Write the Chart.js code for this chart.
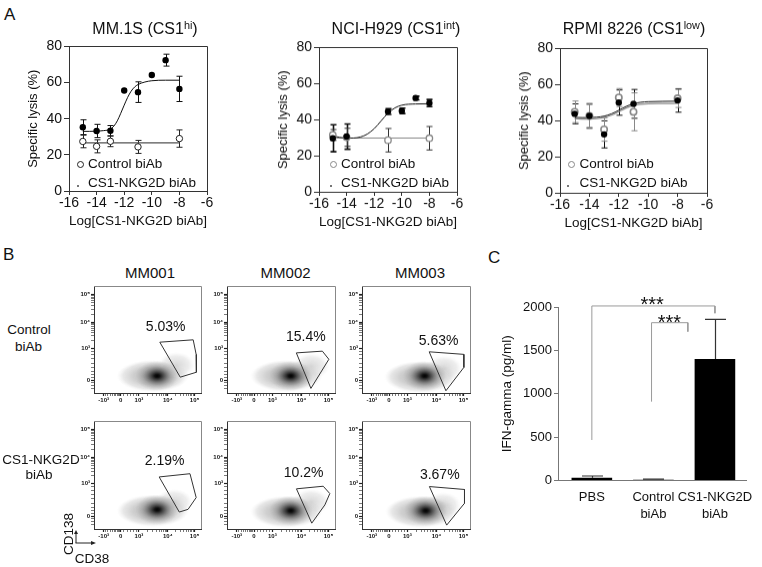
<!DOCTYPE html>
<html>
<head>
<meta charset="utf-8">
<title>CS1-NKG2D biAb</title>
<script src="https://cdn.jsdelivr.net/npm/chart.js@4.4.1/dist/chart.umd.min.js"></script>
<style>
  html, body { margin: 0; padding: 0; background: #fff; }
  #fig { position: relative; width: 762px; height: 567px; overflow: hidden; font-family: "Liberation Sans", Arial, sans-serif; color: #111; }
  #fig canvas { position: absolute; }
  .t { position: absolute; white-space: nowrap; line-height: 1; }
  .t sup { font-size: 68%; line-height: 0; vertical-align: 0.5em; }
  .ring { position: absolute; border-radius: 50%; box-sizing: border-box; }
</style>
</head>
<body>
<div id="fig">
  <svg style="position:absolute;left:60px;top:515px" width="60" height="52">
    <line x1="16" y1="28" x2="16" y2="18" stroke="#222" stroke-width="1"/>
    <polygon points="16,15 14,19 18,19" fill="#222"/>
    <line x1="15.5" y1="28" x2="32" y2="28" stroke="#222" stroke-width="1"/>
    <polygon points="36,28 31,26 31,30" fill="#222"/>
  </svg>
</div>
<script>
// ---------- panel A : specific lysis, x = log10 of biAb concentration ----------
const doseTicks = [-16, -14, -12, -10, -8, -6];
const lysisTicks = [0, 20, 40, 60, 80];

// MM.1S
const mm1sDose = [-15, -14, -13, -12, -11, -10, -9, -8];
const mm1sCs1 = [35.3, 33.2, 33.3, 55.6, 54.7, 64.2, 72.4, 56.5];
const mm1sCs1Err = [4.1, 3.7, 2.9, 0, 5.7, 0, 3.3, 7.0];
const mm1sCtrlDose = [-15, -14, -13, -11, -8];
const mm1sCtrl = [27.4, 24.7, 27.5, 24.4, 29.0];
const mm1sCtrlErr = [3.5, 3.6, 3.0, 3.6, 4.8];
const mm1sFitDose = [-15, -14.5, -14, -13.5, -13, -12.75, -12.5, -12.25, -12, -11.75, -11.5, -11.25, -11, -10.5, -10, -9, -8];
const mm1sCs1Fit = [33.0, 33.0, 33.1, 33.4, 34.2, 35.9, 38.8, 43.0, 47.5, 51.8, 55.2, 57.5, 58.9, 60.3, 61.0, 61.3, 61.3];
const mm1sCtrlFitDose = [-15, -8];
const mm1sCtrlFit = [26.6, 26.6];

// NCI-H929
const nciDose = [-15, -14, -11, -10, -9, -8];
const nciCs1 = [29.7, 30.6, 44.5, 44.9, 52.0, 49.2];
const nciCs1Err = [7.5, 7.0, 1.6, 1.5, 1.0, 2.0];
const nciCtrlDose = [-15, -14, -11, -8];
const nciCtrl = [31.5, 30.2, 28.6, 29.7];
const nciCtrlErr = [3.0, 5.0, 6.5, 6.5];
const nciFitDose = [-15, -14.5, -14, -13.5, -13, -12.5, -12, -11.5, -11, -10.5, -10, -9, -8];
const nciCs1Fit = [31.0, 30.2, 29.8, 29.8, 30.4, 32.0, 35.0, 39.3, 43.6, 46.5, 48.0, 48.7, 48.8];
const nciCtrlFitDose = [-15, -8];
const nciCtrlFit = [29.8, 29.8];

// RPMI 8226
const rpmiDose = [-15, -14, -13, -12, -11, -8];
const rpmiCs1 = [43.8, 42.6, 32.4, 50.0, 49.3, 51.2];
const rpmiCs1Err = [5.5, 6.5, 7.5, 7.0, 8.0, 6.5];
const rpmiCtrl = [44.9, 42.6, 35.1, 52.8, 44.9, 52.3];
const rpmiCtrlErr = [6.0, 7.0, 6.5, 5.0, 10.5, 5.0];
const rpmiFitDose = [-15, -14.5, -14, -13.5, -13, -12.5, -12, -11.5, -11, -10.5, -10, -9, -8];
const rpmiCs1Fit = [41.8, 41.7, 41.7, 41.9, 42.5, 43.8, 45.8, 47.9, 49.4, 50.2, 50.5, 50.7, 50.8];
const rpmiCtrlFit = [41.0, 40.9, 40.9, 41.1, 41.7, 43.0, 45.0, 47.0, 48.4, 49.1, 49.4, 49.5, 49.6];

// ---------- panel B : CD38 x CD138 flow plots (0-100 display units) ----------
const flowSamples = ['MM001', 'MM002', 'MM003'];
const cd38Pos = [9, 25, 42, 69, 94];
const cd38Labels = ['-10³', '0', '10³', '10⁴', '10⁵'];
const cd138Pos = [12, 42, 66, 92];
const cd138Labels = ['0', '10³', '10⁴', '10⁵'];
// order: control MM001..MM003, then CS1-NKG2D MM001..MM003
const gatePct = ['5.03%', '15.4%', '5.63%', '2.19%', '10.2%', '3.67%'];
const pctX = [67, 73, 71, 66, 71, 72];
const pctY = [62, 52, 48, 63, 52, 50];
const gateX = [
  [61.5, 92.7, 95.5, 95.7, 80.6],
  [64.2, 88.3, 94.3, 77.7],
  [62.2, 94.3, 94.3, 77.7],
  [60.9, 89.7, 95.5, 87.9, 79.7],
  [64.3, 89.1, 95.2, 90.6, 78.5],
  [62.4, 94.9, 94.9, 78.4]
];
const gateY = [
  [47.5, 49.7, 36.0, 19.4, 14.8],
  [37.5, 39.1, 31.5, 4.3],
  [38.5, 36.1, 23.9, 2.1],
  [48.2, 51.2, 29.1, 18.2, 15.7],
  [37.2, 39.6, 32.8, 22.3, 5.4],
  [39.3, 36.6, 23.8, 3.6]
];
const coreX = [59, 59, 58, 59, 59, 59];
const coreY = [16, 16, 16, 18, 17, 17];
const lobeX = [77, 78, 76, 75, 78, 75];
const lobeY = [26, 25, 23, 25, 25, 22];
const haloX = [55, 55, 54, 55, 55, 55];
const haloY = [16, 16, 15, 17, 16, 16];

// ---------- panel C : IFN-gamma ----------
const ifnGroups = [['PBS'], ['Control', 'biAb'], ['CS1-NKG2D', 'biAb']];
const ifnMean = [32, 10, 1400];
const ifnErr = [20, 7, 458];
const ifnTicks = [0, 500, 1000, 1500, 2000];
const bracketOuterX = [0, 0, 2, 2];
const bracketOuterY = [467, 2012, 2012, 1928];
const bracketInnerX = [0.97, 0.97, 1.56, 1.56];
const bracketInnerY = [909, 1819, 1819, 1716];
const starX = [0.98, 1.26];
const starY = [2081, 1877];

Chart.defaults.font.family = '"Liberation Sans", Arial, sans-serif';
Chart.defaults.color = '#111';

const fig = document.getElementById('fig');
const xy = (xs, ys) => xs.map((x, i) => ({ x: x, y: ys[i] }));

// error bars (no native support in chart.js)
const errorBars = {
  id: 'errorBars',
  beforeDatasetsDraw(chart) {
    const ctx = chart.ctx;
    const ys = chart.scales.y;
    chart.data.datasets.forEach((ds, i) => {
      if (!ds.errors) return;
      const meta = chart.getDatasetMeta(i);
      ctx.save();
      ctx.strokeStyle = ds.errorColor || '#111';
      ctx.lineWidth = ds.errorWidth || 1;
      meta.data.forEach((pt, j) => {
        const e = ds.errors[j];
        if (!e) return;
        const v = ds.data[j].y;
        const x = Math.round(pt.x) + 0.5;
        const top = ys.getPixelForValue(v + e);
        const bot = ys.getPixelForValue(ds.errorUp ? v : v - e);
        const w = ds.capWidth || 3;
        ctx.beginPath();
        ctx.moveTo(x, top); ctx.lineTo(x, bot);
        ctx.moveTo(x - w, top); ctx.lineTo(x + w, top);
        if (!ds.errorUp) { ctx.moveTo(x - w, bot); ctx.lineTo(x + w, bot); }
        ctx.stroke();
      });
      ctx.restore();
    });
  }
};

// text placed at data coordinates (gate %, significance stars)
const textMarks = {
  id: 'textMarks',
  afterDatasetsDraw(chart, args, opts) {
    if (!opts.items) return;
    const ctx = chart.ctx;
    ctx.save();
    ctx.fillStyle = opts.color || '#111';
    ctx.font = opts.font;
    ctx.textAlign = 'center';
    ctx.textBaseline = opts.baseline || 'middle';
    opts.items.forEach(it => {
      ctx.fillText(it.text, chart.scales.x.getPixelForValue(it.x), chart.scales.y.getPixelForValue(it.y) + (opts.dy || 0));
    });
    ctx.restore();
  }
};

// top and right edges of the plot box
const frame = {
  id: 'frame',
  afterDraw(chart, args, opts) {
    if (!opts.color) return;
    const a = chart.chartArea, ctx = chart.ctx;
    ctx.save();
    ctx.strokeStyle = opts.color;
    ctx.lineWidth = 1;
    ctx.beginPath();
    ctx.moveTo(Math.round(a.left), Math.round(a.top) + 0.5);
    ctx.lineTo(Math.round(a.right) + 0.5, Math.round(a.top) + 0.5);
    ctx.lineTo(Math.round(a.right) + 0.5, Math.round(a.bottom));
    ctx.stroke();
    ctx.restore();
  }
};

Chart.register(errorBars, textMarks, frame);

function addCanvas(l, t, w, h) {
  const c = document.createElement('canvas');
  c.width = w; c.height = h;
  c.style.left = l + 'px'; c.style.top = t + 'px';
  c.style.width = w + 'px'; c.style.height = h + 'px';
  fig.appendChild(c);
  return c;
}

function text(html, x, y, size, align, extra) {
  const d = document.createElement('div');
  d.className = 't';
  d.innerHTML = html;
  d.style.fontSize = size + 'px';
  d.style.left = x + 'px';
  d.style.top = y + 'px';
  d.style.transform = align === 'left' ? 'translate(0,-50%)' : 'translate(-50%,-50%)';
  if (extra) Object.assign(d.style, extra);
  fig.appendChild(d);
}

function ring(cx, cy, r, color, width) {
  const d = document.createElement('div');
  d.className = 'ring';
  d.style.left = (cx - r) + 'px'; d.style.top = (cy - r) + 'px';
  d.style.width = 2 * r + 'px'; d.style.height = 2 * r + 'px';
  d.style.border = width + 'px solid ' + color;
  fig.appendChild(d);
}

const baseOpts = {
  responsive: false,
  animation: false,
  devicePixelRatio: 1,
  events: []
};

function lysisChart(plot, s) {
  const l = plot[0], t = plot[1], r = plot[2], b = plot[3];
  const cv = addCanvas(l - 45, t - 4, r - l + 59, b - t + 42);
  new Chart(cv, {
    type: 'scatter',
    data: {
      datasets: [
        { data: xy(s.cs1Dose, s.cs1), errors: s.cs1Err, errorColor: '#111', errorWidth: s.cs1ErrWidth, capWidth: 3,
          pointRadius: 3.2, pointBackgroundColor: '#000', pointBorderColor: '#000', pointBorderWidth: 0 },
        { data: xy(s.ctrlDose, s.ctrl), errors: s.ctrlErr, errorColor: s.ctrlErrColor, errorWidth: 1, capWidth: 3,
          pointRadius: 3.2, pointBackgroundColor: '#fff', pointBorderColor: s.ctrlColor, pointBorderWidth: s.ctrlBorder },
        { data: xy(s.fitDose, s.cs1Fit), showLine: true, borderColor: '#111', borderWidth: 1, pointRadius: 0,
          cubicInterpolationMode: 'monotone' },
        { data: xy(s.ctrlFitDose, s.ctrlFit), showLine: true, borderColor: s.ctrlLine, borderWidth: 1.2, pointRadius: 0,
          cubicInterpolationMode: 'monotone' }
      ]
    },
    options: Object.assign({}, baseOpts, {
      layout: { padding: { left: 2, top: 4, right: 14, bottom: 0 } },
      scales: {
        x: {
          type: 'linear', min: -16, max: -6,
          afterBuildTicks: sc => { sc.ticks = doseTicks.map(v => ({ value: v })); },
          ticks: { callback: v => String(v), font: { size: 14 }, color: '#111', padding: 0, autoSkip: false, maxRotation: 0 },
          grid: { display: true, drawOnChartArea: false, tickLength: 4, color: '#333' },
          border: { color: '#333', width: 1 },
          title: { display: true, text: 'Log[CS1-NKG2D biAb]', font: { size: 13.5 }, color: '#111', padding: 0 },
          afterFit: sc => { sc.height = 38; }
        },
        y: {
          type: 'linear', min: 0, max: 80,
          afterBuildTicks: sc => { sc.ticks = lysisTicks.map(v => ({ value: v })); },
          ticks: { callback: v => String(v), font: { size: 14 }, color: '#111', padding: 2 },
          grid: { display: true, drawOnChartArea: false, tickLength: 5, color: '#333' },
          border: { color: '#333', width: 1 },
          title: { display: true, text: 'Specific lysis (%)', font: { size: 13 }, color: '#111', padding: 0 },
          afterFit: sc => { sc.width = 43; }
        }
      },
      plugins: { legend: { display: false }, tooltip: { enabled: false }, frame: { color: '#333' } }
    })
  });
}

lysisChart([69, 40, 207, 191], {
  cs1Dose: mm1sDose, cs1: mm1sCs1, cs1Err: mm1sCs1Err, cs1ErrWidth: 1,
  ctrlDose: mm1sCtrlDose, ctrl: mm1sCtrl, ctrlErr: mm1sCtrlErr, ctrlErrColor: '#222', ctrlColor: '#222', ctrlBorder: 1, ctrlLine: '#555',
  fitDose: mm1sFitDose, cs1Fit: mm1sCs1Fit, ctrlFitDose: mm1sCtrlFitDose, ctrlFit: mm1sCtrlFit
});
lysisChart([319, 41, 457, 191.5], {
  cs1Dose: nciDose, cs1: nciCs1, cs1Err: nciCs1Err, cs1ErrWidth: 1.6,
  ctrlDose: nciCtrlDose, ctrl: nciCtrl, ctrlErr: nciCtrlErr, ctrlErrColor: '#333', ctrlColor: '#888', ctrlBorder: 1.3, ctrlLine: '#888',
  fitDose: nciFitDose, cs1Fit: nciCs1Fit, ctrlFitDose: nciCtrlFitDose, ctrlFit: nciCtrlFit
});
lysisChart([560, 42, 707, 192.5], {
  cs1Dose: rpmiDose, cs1: rpmiCs1, cs1Err: rpmiCs1Err, cs1ErrWidth: 1,
  ctrlDose: rpmiDose, ctrl: rpmiCtrl, ctrlErr: rpmiCtrlErr, ctrlErrColor: '#888', ctrlColor: '#888', ctrlBorder: 1.6, ctrlLine: '#888',
  fitDose: rpmiFitDose, cs1Fit: rpmiCs1Fit, ctrlFitDose: rpmiFitDose, ctrlFit: rpmiCtrlFit
});

// panel A text
text('A', 4, 14, 17, 'left');
text('MM.1S (CS1<sup>hi</sup>)', 145, 29, 16);
text('NCI-H929 (CS1<sup>int</sup>)', 396, 29, 16);
text('RPMI 8226 (CS1<sup>low</sup>)', 634, 29, 16);
[[80, 88, 77.7, '#222'], [333, 341, 331, '#888'], [571, 579.5, 568.3, '#888']].forEach(g => {
  ring(g[0], 164.5, 3.5, g[3], g[3] === '#222' ? 1 : 1.4);
  text('Control biAb', g[1], 164, 13.5, 'left');
  ring(g[2], 186, 0.9, '#111', 0.9);
  text('CS1-NKG2D biAb', g[1], 182.5, 13.5, 'left');
});

// ---------- panel B ----------
function blobImage(w, h, stops) {
  const c = document.createElement('canvas');
  c.width = w; c.height = h;
  const g = c.getContext('2d');
  g.translate(w / 2, h / 2);
  g.scale(w / h, 1);
  const grad = g.createRadialGradient(0, 0, 0, 0, 0, h / 2);
  stops.forEach(s => grad.addColorStop(s[0], s[1]));
  g.fillStyle = grad;
  g.beginPath();
  g.arc(0, 0, h / 2, 0, Math.PI * 2);
  g.fill();
  return c;
}
const haloImg = blobImage(72, 32, [[0, 'rgba(175,175,175,0.9)'], [0.55, 'rgba(198,198,198,0.85)'], [0.82, 'rgba(218,218,218,0.65)'], [1, 'rgba(235,235,235,0)']]);
const lobeImg = blobImage(36, 26, [[0, 'rgba(200,200,200,0.75)'], [0.7, 'rgba(215,215,215,0.45)'], [1, 'rgba(230,230,230,0)']]);
const coreImg = blobImage(44, 30, [[0, 'rgba(0,0,0,1)'], [0.12, 'rgba(10,10,10,0.95)'], [0.35, 'rgba(60,60,60,0.75)'], [0.65, 'rgba(120,120,120,0.4)'], [1, 'rgba(160,160,160,0)']]);

function logMinors(a, b) {
  const out = [];
  for (let k = 2; k <= 9; k++) out.push(a + (b - a) * Math.log10(k));
  return out;
}
const cd38Minor = [11, 13, 15, 17, 19, 20.5, 22, 23, 24, 28, 31, 34, 37, 39.5].concat(logMinors(42, 69), logMinors(69, 94));
const cd138Minor = [4, 7, 9.5, 14.5, 17, 20, 24, 28, 32, 36, 39].concat(logMinors(42, 66), logMinors(66, 92));

function flowAxis(pos, labels, minor, fitKey, fitVal) {
  const all = pos.concat(minor).sort((a, b) => a - b);
  return {
    type: 'linear', min: 0, max: 100,
    afterBuildTicks: sc => { sc.ticks = all.map(v => ({ value: v })); },
    ticks: {
      callback: v => { const i = pos.indexOf(v); return i >= 0 ? labels[i] : ''; },
      font: { size: 6, weight: 'bold' }, color: '#111', padding: 1, autoSkip: false, maxRotation: 0
    },
    grid: {
      display: true, drawOnChartArea: false, tickLength: 3, color: '#222',
      tickWidth: ctx => (ctx.tick && pos.indexOf(ctx.tick.value) >= 0 ? 1.2 : 0.6)
    },
    border: { color: '#333', width: 1 },
    afterFit: sc => { sc[fitKey] = fitVal; }
  };
}

function flowChart(k, box) {
  const l = box[0], t = box[1], r = box[2], b = box[3];
  const cv = addCanvas(l - 17, t - 2, r - l + 19, b - t + 14);
  new Chart(cv, {
    type: 'scatter',
    data: {
      datasets: [
        { data: xy(gateX[k].concat(gateX[k][0]), gateY[k].concat(gateY[k][0])), showLine: true,
          borderColor: '#333', borderWidth: 1, pointRadius: 0 },
        { data: [{ x: coreX[k], y: coreY[k] }], pointStyle: coreImg, pointRadius: 3, clip: 0 },
        { data: [{ x: lobeX[k], y: lobeY[k] }], pointStyle: lobeImg, pointRadius: 3, clip: 0 },
        { data: [{ x: haloX[k], y: haloY[k] }], pointStyle: haloImg, pointRadius: 3, clip: 0 }
      ]
    },
    options: Object.assign({}, baseOpts, {
      layout: { padding: { left: 0, top: 2, right: 2, bottom: 0 } },
      scales: {
        x: flowAxis(cd38Pos, cd38Labels, cd38Minor, 'height', 12),
        y: flowAxis(cd138Pos, cd138Labels, cd138Minor, 'width', 17)
      },
      plugins: {
        legend: { display: false }, tooltip: { enabled: false },
        frame: { color: '#888' },
        textMarks: { items: [{ x: pctX[k], y: pctY[k], text: gatePct[k] }], font: '14px "Liberation Sans", Arial, sans-serif' }
      }
    })
  });
}

const flowCols = [[94, 204], [227, 338], [362, 473]];
const flowRows = [[283, 393], [418, 529]];
flowRows.forEach((row, ri) => {
  flowCols.forEach((col, ci) => {
    flowChart(ri * 3 + ci, [col[0], row[0], col[1], row[1]]);
  });
});

text('B', 3, 254, 17, 'left');
[150, 285.6, 420].forEach((x, i) => text(flowSamples[i], x, 272, 15));
text('Control', 29, 330, 13.5);
text('biAb', 28.5, 347, 13.5);
text('CS1-NKG2D', 41, 460, 13.5);
text('biAb', 39, 475, 13.5);
text('CD138', 68.5, 534, 13.5, 'center', { transform: 'translate(-50%,-50%) rotate(-90deg)' });
text('CD38', 92, 559, 13.5);

// ---------- panel C ----------
(function () {
  const cv = addCanvas(499, 285, 263, 240);
  new Chart(cv, {
    type: 'bar',
    data: {
      datasets: [
        { type: 'bar', data: ifnMean.map((v, i) => ({ x: i, y: v })), backgroundColor: '#000', borderWidth: 0,
          categoryPercentage: 1, barPercentage: 0.66,
          errors: ifnErr, errorUp: true, errorColor: '#333', errorWidth: 1.2, capWidth: 10.5 },
        { type: 'line', data: xy(bracketOuterX, bracketOuterY), borderColor: '#9a9a9a', borderWidth: 1,
          pointRadius: 0, tension: 0, clip: false },
        { type: 'line', data: xy(bracketInnerX, bracketInnerY), borderColor: '#9a9a9a', borderWidth: 1,
          pointRadius: 0, tension: 0, clip: false }
      ]
    },
    options: Object.assign({}, baseOpts, {
      layout: { padding: { left: 0, top: 22, right: 14, bottom: 0 } },
      scales: {
        x: {
          type: 'linear', min: -0.55, max: 2.52, offset: false,
          afterBuildTicks: sc => { sc.ticks = ifnGroups.map((g, i) => ({ value: i })); },
          ticks: { callback: (v, i) => ifnGroups[i], font: { size: 13, lineHeight: 1.38 }, color: '#111',
                   padding: 7.5, autoSkip: false, maxRotation: 0 },
          grid: { display: false, drawTicks: false },
          border: { display: true, color: '#777', width: 1 },
          afterFit: sc => { sc.height = 44.5; }
        },
        y: {
          type: 'linear', min: 0, max: 2000,
          afterBuildTicks: sc => { sc.ticks = ifnTicks.map(v => ({ value: v })); },
          ticks: { callback: v => String(v), font: { size: 13 }, color: '#111', padding: 2 },
          grid: { display: true, drawOnChartArea: false, tickLength: 4, color: '#777' },
          border: { color: '#777', width: 1 },
          title: { display: true, text: 'IFN-gamma (pg/ml)', font: { size: 13.5 }, color: '#111', padding: 0 },
          afterFit: sc => { sc.width = 59; }
        }
      },
      plugins: {
        legend: { display: false }, tooltip: { enabled: false },
        textMarks: { items: starX.map((x, i) => ({ x: x, y: starY[i], text: '***' })),
                     font: '20px "Liberation Sans", Arial, sans-serif', baseline: 'alphabetic', dy: 11.5 }
      }
    })
  });
})();
text('C', 488, 257, 17, 'left');
</script>
</body>
</html>
